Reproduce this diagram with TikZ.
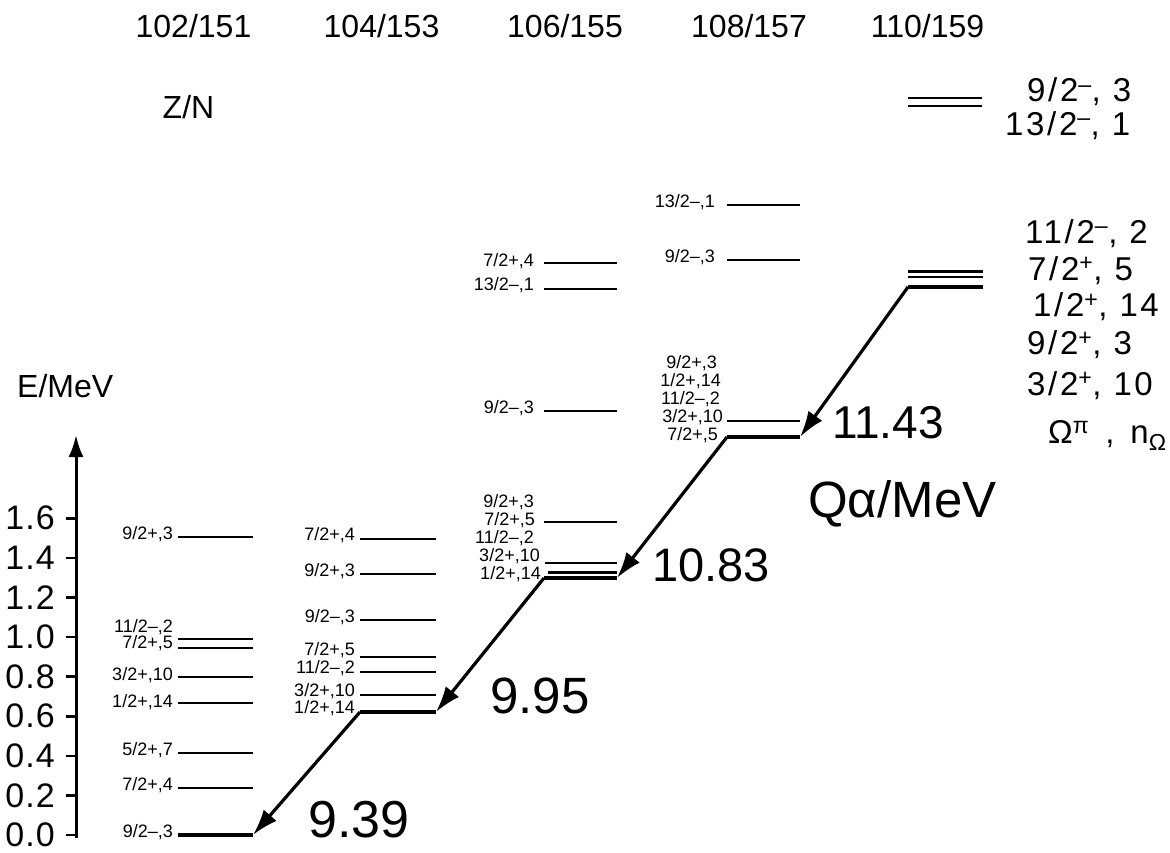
\documentclass[tikz,border=0pt]{standalone}
\usepackage{fontspec}
\setmainfont{Liberation Sans}
\usetikzlibrary{arrows.meta}
\newcommand\fs[1]{\fontsize{#1}{#1}\selectfont}
\tikzset{
  lvl/.style={line width=2.2pt},
  gnd/.style={line width=3.4pt},
  lab/.style={inner sep=0pt, anchor=base east, font=\fs{18}},
  big/.style={inner sep=0pt, anchor=base west},
  hdr/.style={inner sep=0pt, anchor=base, font=\fs{32}},
  rlab/.style={inner sep=0pt, anchor=base west, font=\fs{33}\addfontfeature{LetterSpace=8}},
  trans/.style={line width=3.2pt, -{Latex[length=26pt,width=17pt]}},
}
\begin{document}
\begin{tikzpicture}[x=1pt,y=-1pt]
\useasboundingbox (0,0) rectangle (1170,852);

% headers
\node[hdr] (h1) at (193.5,37) {102/151};
\node[hdr] (h2) at (381.5,37) {104/153};
\node[hdr] (h3) at (565,37) {106/155};
\node[hdr] (h4) at (749,37) {108/157};
\node[hdr] (h5) at (927.5,37) {110/159};
\node[hdr] (zn) at (188.5,118) {Z/N};

% axis
\coordinate (axb) at (76,838);
\coordinate (axt) at (76,435);
\draw[line width=3pt, -{Latex[length=22pt,width=15pt]}] (axb) -- (axt);
\node[inner sep=0pt, anchor=base west, font=\fs{32}] (ax) at (17,397) {E/MeV};
\foreach \i/\t in {0/0.0,1/0.2,2/0.4,3/0.6,4/0.8,5/1.0,6/1.2,7/1.4,8/1.6}{
  \draw[line width=2.6pt] (66,835-\i*39.6) -- (76,835-\i*39.6);
  \node[inner sep=0pt, anchor=east, font=\fs{34}\addfontfeature{LetterSpace=3}] (t\i) at (55,835-\i*39.6) {\t};
}

% column 1
\draw[lvl] (178,537) -- (253,537); \node[lab] (a1) at (173,539) {9/2+,3};
\draw[lvl] (178,639) -- (253,639); \node[lab] (a2) at (173,632) {11/2–,2};
\draw[lvl] (178,648) -- (253,648); \node[lab] (a3) at (173,648) {7/2+,5};
\draw[lvl] (178,677) -- (253,677); \node[lab] (a4) at (173,680) {3/2+,10};
\draw[lvl] (178,703) -- (253,703); \node[lab] (a5) at (173,707) {1/2+,14};
\draw[lvl] (178,753) -- (253,753); \node[lab] (a6) at (173,755) {5/2+,7};
\draw[lvl] (178,788) -- (253,788); \node[lab] (a7) at (173,790) {7/2+,4};
\draw[gnd] (178,835) -- (253,835); \node[lab] (a8) at (173,837) {9/2–,3};

% column 2
\draw[lvl] (360,539) -- (436,539); \node[lab] (b1) at (355,540) {7/2+,4};
\draw[lvl] (360,574) -- (436,574); \node[lab] (b2) at (355,576) {9/2+,3};
\draw[lvl] (360,620) -- (436,620); \node[lab] (b3) at (355,622) {9/2–,3};
\draw[lvl] (360,657) -- (436,657); \node[lab] (b4) at (355,655) {7/2+,5};
\draw[lvl] (360,672) -- (436,672); \node[lab] (b5) at (355,673) {11/2–,2};
\draw[lvl] (360,695) -- (436,695); \node[lab] (b6) at (355,696) {3/2+,10};
\draw[gnd] (360,712) -- (436,712); \node[lab] (b7) at (355,713) {1/2+,14};

% column 3
\draw[lvl] (544,263) -- (617,263); \node[lab] (c1) at (534,266) {7/2+,4};
\draw[lvl] (544,289) -- (617,289); \node[lab] (c2) at (534,290) {13/2–,1};
\draw[lvl] (544,411) -- (617,411); \node[lab] (c3) at (534,413) {9/2–,3};
\node[lab] (c4) at (534,507) {9/2+,3};
\draw[lvl] (544,522) -- (617,522); \node[lab] (c5) at (535,525) {7/2+,5};
\node[lab] (c6) at (534,543) {11/2–,2};
\draw[lvl] (545,563) -- (617,563); \node[lab] (c7) at (540,561) {3/2+,10};
\draw[lvl] (548,572.5) -- (617,572.5);
\draw[gnd] (544,578) -- (617,578); \node[lab] (c8) at (541,579) {1/2+,14};

% column 4
\draw[lvl] (727,205) -- (800,205); \node[lab] (d1) at (715,207) {13/2–,1};
\draw[lvl] (727,260) -- (800,260); \node[lab] (d2) at (715,262) {9/2–,3};
\node[lab] (d3) at (717,368) {9/2+,3};
\node[lab] (d4) at (721,386) {1/2+,14};
\node[lab] (d5) at (720,404) {11/2–,2};
\draw[lvl] (727,421) -- (800,421); \node[lab] (d6) at (723,422) {3/2+,10};
\draw[line width=4.2pt] (727,437) -- (800,437); \node[lab] (d7) at (718,440) {7/2+,5};

% column 5
\draw[lvl] (908,98) -- (982,98);
\draw[lvl] (908,106) -- (982,106);
\draw[lvl] (908,271.5) -- (983,271.5);
\draw[lvl] (908,277) -- (983,277);
\draw[line width=4pt] (908,287) -- (983,287);

% right labels
\node[rlab] (r1) at (1027,101.5) {9/2\textsuperscript{–},\hspace{12pt}3};
\node[rlab] (r2) at (1005,135) {13/2\textsuperscript{–},\hspace{12pt}1};
\node[rlab] (r3) at (1025,243) {11/2\textsuperscript{–},\hspace{12pt}2};
\node[rlab] (r4) at (1028,280) {7/2\textsuperscript{+},\hspace{12pt}5};
\node[rlab] (r5) at (1033,316.5) {1/2\textsuperscript{+},\hspace{12pt}14};
\node[rlab] (r6) at (1027,354.5) {9/2\textsuperscript{+},\hspace{12pt}3};
\node[rlab] (r7) at (1027,395) {3/2\textsuperscript{+},\hspace{12pt}10};
\node[rlab] (r8) at (1048,443) {Ω\textsuperscript{π}\hspace{16pt},\hspace{16pt}n\textsubscript{Ω}};

% ground-state coordinates and alpha transitions
\coordinate (g1R) at (253,835);
\coordinate (g2L) at (360,712);
\coordinate (g2R) at (436,712);
\coordinate (g3L) at (544,578);
\coordinate (g3R) at (617,578);
\coordinate (g4L) at (727,437);
\coordinate (g4R) at (800,437);
\coordinate (g5L) at (908,287);
\draw[trans] (g2L) -- (g1R);
\draw[trans] (g3L) -- (g2R);
\draw[trans] (g4L) -- (g3R);
\draw[trans] (g5L) -- (g4R);

% Q-values
\node[big, font=\fs{52}] (q1) at (308,837) {9.39};
\node[big, font=\fs{51}] (q2) at (490,713) {9.95};
\node[big, font=\fs{47}] (q3) at (652,581) {10.83};
\node[big, font=\fs{46}] (q4) at (832,438) {11.43};
\node[big, font=\fs{51}] (qa) at (808,517) {Qα/MeV};
\end{tikzpicture}
\end{document}
